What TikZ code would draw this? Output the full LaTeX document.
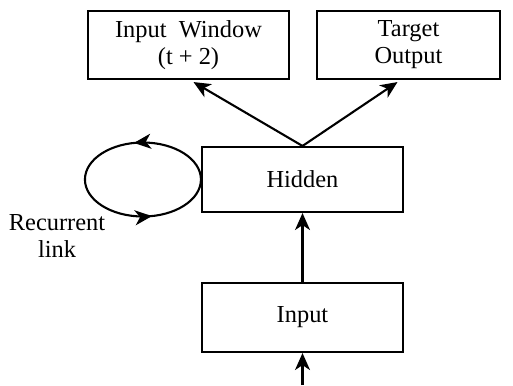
\documentclass[tikz,border=0pt]{standalone}
\usepackage{fontspec}
\setmainfont{Liberation Serif}
\usetikzlibrary{arrows.meta,decorations.markings,calc}
\begin{document}
\begin{tikzpicture}[x=1bp,y=1bp,
  line width=2.1bp,
  txt/.style={font=\fontsize{24.5}{27}\selectfont, align=center},
  layerbox/.style={draw, rectangle, inner sep=0pt, txt},
  tip/.style={-{Stealth[length=17bp,width=15bp,inset=5bp]}},
  loopmark/.style={decoration={markings,
      mark=at position 0.28 with {\arrow{Stealth[length=17bp,width=15bp,inset=5bp]}},
      mark=at position 0.78 with {\arrow{Stealth[length=17bp,width=15bp,inset=5bp]}}},
    postaction=decorate}]
\useasboundingbox (0,0) rectangle (513,-385);

% layers
\node[layerbox, minimum width=201bp, minimum height=68bp] (win) at (188.5,-45) {Input~~Window\\(t + 2)};
\node[layerbox, minimum width=183bp, minimum height=68bp] (tgt) at (408.5,-45) {Target\\Output};
\node[layerbox, minimum width=201bp, minimum height=65bp] (hid) at (302.5,-179.5) {Hidden};
\node[layerbox, minimum width=201bp, minimum height=69bp] (inp) at (302.5,-317.5) {Input};

% recurrent loop on the hidden layer
\draw[loopmark] (hid.west) arc[start angle=0, end angle=360, x radius=58, y radius=37];
\node[txt] (rec) at (57,-236) {Recurrent\\link};

% connections
\coordinate (src) at (302.5,-385);
\draw[tip] (src) -- (inp.south);
\draw[tip] (inp.north) -- (hid.south);
\draw[tip] (hid.north) -- ([xshift=5bp,yshift=-2bp]win.south);
\draw[tip] (hid.north) -- ([xshift=-11bp,yshift=-2bp]tgt.south);
\end{tikzpicture}
\end{document}
